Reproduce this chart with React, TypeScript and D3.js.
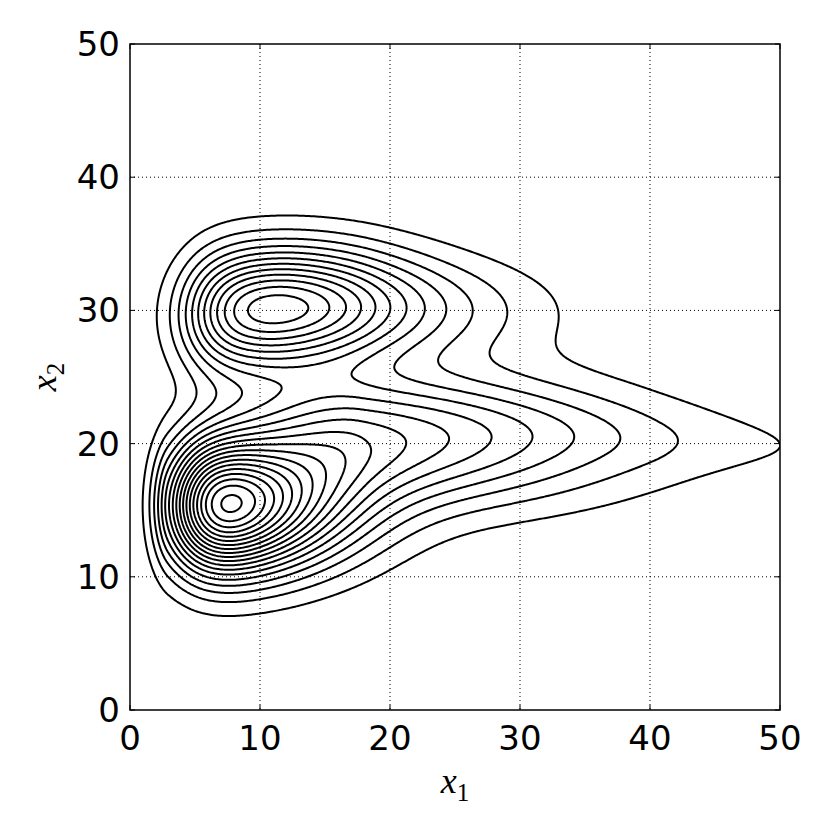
import React, { useMemo } from "react";
import * as d3 from "d3";

// axis ticks and contour levels
const xTicks = [0, 10, 20, 30, 40, 50];
const yTicks = [0, 10, 20, 30, 40, 50];
const levels = [1, 2, 3, 4, 5, 6, 7, 8, 9, 10, 11, 12, 13, 14, 15, 16, 17, 18, 19, 20];

// density model: soft left edge x sum of skewed Gaussian bumps
const edgeX = 4.464;
const edgeWidth = 1.519;
const compWeight = [25.232, 11.486, 7.476, 3.637, 0.661];
const compMeanX = [2.916, 9.286, 17.765, 18.568, 40.663];
const compMeanY = [15.334, 30.024, 20.329, 30.126, 20.4];
const compSdXLeft = [1.5, 6.165, 6.124, 6.015, 16.266];
const compSdXRight = [7.889, 6.842, 13.158, 8.659, 30.003];
const compSdY = [3.42, 3.17, 3.377, 2.736, 2.5];
const compRho = [0.002, 0.123, -0.042, -0.017, -0.7];

function density(x: number, y: number) {
  const edge = 1 / (1 + Math.exp(-(x - edgeX) / edgeWidth));
  let s = 0;
  for (let i = 0; i < compWeight.length; i++) {
    const dx = x - compMeanX[i];
    const u = dx / (dx < 0 ? compSdXLeft[i] : compSdXRight[i]);
    const v = (y - compMeanY[i]) / compSdY[i];
    const r = compRho[i];
    const Q = (u * u - 2 * r * u * v + v * v) / (1 - r * r);
    s += compWeight[i] * Math.exp(-0.5 * Q);
  }
  return edge * s;
}

const X0 = 130, X1 = 780, Y0 = 44, Y1 = 710;

export default function App() {
  const xs = d3.scaleLinear().domain([0, 50]).range([X0, X1]);
  const ys = d3.scaleLinear().domain([0, 50]).range([Y1, Y0]);
  const paths = useMemo(() => {
    const lo = -2, h = 0.1, n = 541;
    const vals = new Array(n * n);
    for (let j = 0; j < n; j++) for (let i = 0; i < n; i++) vals[i + j * n] = density(lo + i * h, lo + j * h);
    const cs = d3.contours().size([n, n]).thresholds(levels)(vals);
    const tr = d3.geoTransform({
      point(x: number, y: number) { this.stream.point(xs(lo + (x - 0.5) * h), ys(lo + (y - 0.5) * h)); },
    });
    const gp = d3.geoPath(tr);
    return cs.map((c) => gp(c as any) || "");
  }, []);

  return (
    <svg width={830} height={830} style={{ position: "absolute", left: 0, top: 0, background: "#fff" }} fontFamily="DejaVu Sans">
      <defs>
        <clipPath id="plot"><rect x={X0} y={Y0} width={X1 - X0} height={Y1 - Y0} /></clipPath>
      </defs>
      <rect width={830} height={830} fill="#fff" />
      {xTicks.slice(1, -1).map((t) => (
        <line key={"gx" + t} x1={xs(t)} x2={xs(t)} y1={Y0} y2={Y1} stroke="#000" strokeWidth={1} strokeDasharray="1,3" />
      ))}
      {yTicks.slice(1, -1).map((t) => (
        <line key={"gy" + t} x1={X0} x2={X1} y1={ys(t)} y2={ys(t)} stroke="#000" strokeWidth={1} strokeDasharray="1,3" />
      ))}
      <g clipPath="url(#plot)">
        {paths.map((d, i) => (
          <path key={i} d={d} fill="none" stroke="#000" strokeWidth={2} strokeLinejoin="round" />
        ))}
      </g>
      <rect x={X0} y={Y0} width={X1 - X0} height={Y1 - Y0} fill="none" stroke="#000" strokeWidth={1.5} />
      {xTicks.map((t) => (
        <g key={"tx" + t}>
          <line x1={xs(t)} x2={xs(t)} y1={Y1} y2={Y1 - 5} stroke="#000" />
          <line x1={xs(t)} x2={xs(t)} y1={Y0} y2={Y0 + 5} stroke="#000" />
          <text x={xs(t)} y={Y1 + 40} textAnchor="middle" fontSize={34}>{t}</text>
        </g>
      ))}
      {yTicks.map((t) => (
        <g key={"ty" + t}>
          <line x1={X0} x2={X0 + 5} y1={ys(t)} y2={ys(t)} stroke="#000" />
          <line x1={X1} x2={X1 - 5} y1={ys(t)} y2={ys(t)} stroke="#000" />
          <text x={X0 - 10} y={ys(t) + 12} textAnchor="end" fontSize={34}>{t}</text>
        </g>
      ))}
      <text x={(X0 + X1) / 2} y={793} textAnchor="middle" fontFamily="Liberation Serif" fontSize={36}>
        <tspan fontStyle="italic">x</tspan><tspan fontSize={25} dy={8}>1</tspan>
      </text>
      <text transform={`translate(56, ${(Y0 + Y1) / 2}) rotate(-90)`} textAnchor="middle" fontFamily="Liberation Serif" fontSize={36}>
        <tspan fontStyle="italic">x</tspan><tspan fontSize={25} dy={8}>2</tspan>
      </text>
    </svg>
  );
}
